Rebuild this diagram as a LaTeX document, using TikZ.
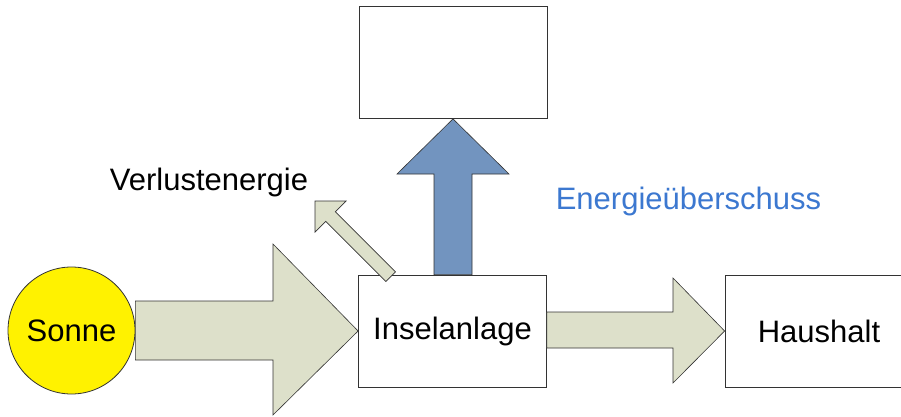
\documentclass[tikz,border=0pt]{standalone}
\usepackage{fontspec}
\setmainfont{Liberation Sans}
\definecolor{arrowgreen}{HTML}{DDE0CA}
\definecolor{arrowblue}{HTML}{7294BF}
\definecolor{textblue}{HTML}{3C78D0}
\definecolor{edge}{HTML}{333333}
\tikzset{
  box/.style={draw=edge, line width=0.8pt, fill=white, minimum width=188pt, minimum height=112pt, inner sep=0pt, font=\fontsize{31}{37}\selectfont},
  sun/.style={draw=edge, line width=0.8pt, fill=yellow, circle, minimum size=127pt, inner sep=0pt, font=\fontsize{31}{37}\selectfont},
  flow/.style={draw=edge, line width=0.6pt, fill=arrowgreen, line join=miter},
  flowblue/.style={draw=edge, line width=0.6pt, fill=arrowblue, line join=miter},
  lbl/.style={font=\fontsize{31}{37}\selectfont, inner sep=0pt, anchor=base}
}
\begin{document}
\begin{tikzpicture}[x=1pt,y=1pt]
\useasboundingbox (0,0) rectangle (901,416);
\begin{scope}
\clip (0,0) rectangle (901,416);
% nodes
\node[sun] (sonne) at (71.5,85.5) {Sonne};
\node[box] (insel) at (452.5,85) {Inselanlage};
\node[box] (top) at (453,353.5) {};
\node[box] (haus) at (819,85) {Haushalt};
% big arrow Sonne -> Inselanlage
\draw[flow] (sonne.east |- 0,115) -- (273,115) -- (273,172) -- (insel.west) -- (273,1) -- (273,56) -- (sonne.east |- 0,56) -- cycle;
% right arrow Inselanlage -> Haushalt
\draw[flow] (insel.east |- 0,104) -- (673,104) -- (673,138) -- (haus.west) -- (673,33) -- (673,68) -- (insel.east |- 0,68) -- cycle;
% blue arrow Inselanlage -> top box
\draw[flowblue] (434,0 |- insel.north) -- (434,242) -- (397,242) -- (top.south) -- (509,242) -- (472,242) -- (472,0 |- insel.north) -- cycle;
% small loss arrow
\coordinate (losstip) at (315,215);
\begin{scope}[shift={(losstip)}, rotate=-45]
\draw[flow] (0,0) -- (22,22) -- (22,6.8) -- (107,6.8) -- (107,-6.8) -- (22,-6.8) -- (22,-22) -- cycle;
\end{scope}
% labels
\node[lbl] (verlust) at (209,226) {Verlustenergie};
\node[lbl, text=textblue] (ueber) at (688.5,207) {Energieüberschuss};
\end{scope}
\end{tikzpicture}
\end{document}
